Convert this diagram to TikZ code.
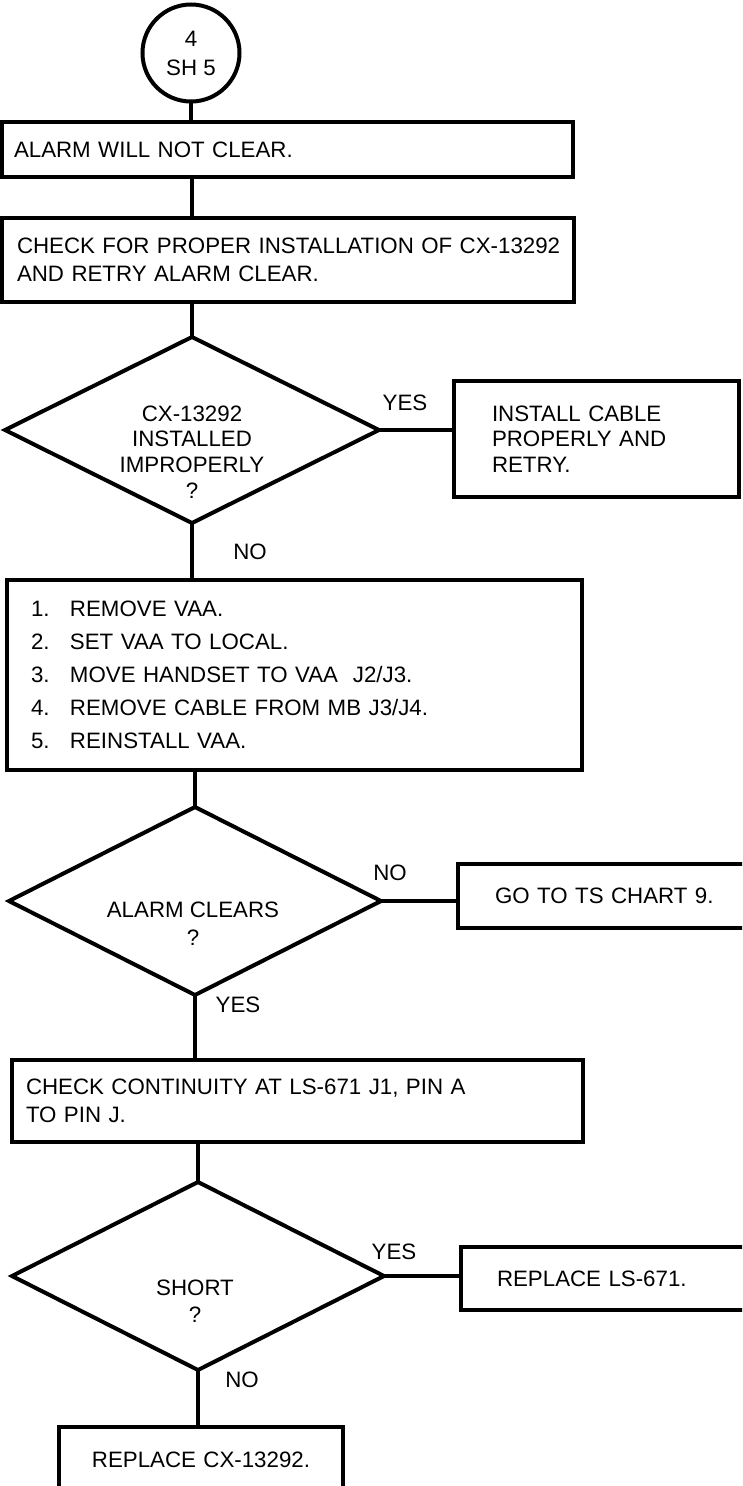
\documentclass[tikz,border=0pt]{standalone}
\usepackage{fontspec}
\setmainfont{Liberation Sans}
\usetikzlibrary{shapes.geometric}
\begin{document}
\begin{tikzpicture}[x=1pt,y=-1pt,
  every node/.style={font=\fontsize{22.3}{28}\selectfont},
  stroke/.style={line width=4pt, line cap=rect},
  box/.style={draw, stroke, rectangle, anchor=north west, outer sep=0pt, inner ysep=0pt, align=left},
  decision/.style={draw, stroke, diamond, shape aspect=2, inner sep=0pt, outer sep=0pt},
  lab/.style={inner sep=0pt},
  conn/.style={stroke}
]
\useasboundingbox (0,0) rectangle (742,1486);
\clip (0,0) rectangle (742,1486);

% start connector circle
\node[draw, stroke, circle, minimum size=97pt, inner sep=0pt, align=center,
      font=\fontsize{22.3}{29}\selectfont] (c) at (191,53) {4\\SH 5};

\node[box, minimum height=55pt, text width=547pt, inner xsep=12pt] (b1) at (2,122)
  {ALARM WILL NOT CLEAR.};
\node[box, minimum height=84pt, text width=542pt, inner xsep=15pt] (b2) at (2,218)
  {\mbox{CHECK FOR PROPER INSTALLATION OF CX-13292}\\\mbox{AND RETRY ALARM CLEAR.}};

\node[decision, minimum width=374pt, minimum height=186pt] (d1) at (192,430) {};
\node[lab, align=center, font=\fontsize{22.3}{25.7}\selectfont] (t1) at (192,452)
  {CX-13292\\INSTALLED\\IMPROPERLY\\?};

\node[box, minimum height=116pt, text width=209pt, inner xsep=38pt,
      font=\fontsize{22.3}{25.5}\selectfont] (inst) at (454,381)
  {INSTALL CABLE\\PROPERLY AND\\RETRY.};

\node[box, minimum height=190pt, text width=527pt, inner xsep=24pt,
      font=\fontsize{22.3}{33}\selectfont] (b3) at (7,580)
  {\makebox[39pt][l]{1.}REMOVE VAA.\\
   \makebox[39pt][l]{2.}SET VAA TO LOCAL.\\
   \makebox[39pt][l]{3.}MOVE HANDSET TO VAA\ \ J2/J3.\\
   \makebox[39pt][l]{4.}REMOVE CABLE FROM MB J3/J4.\\
   \makebox[39pt][l]{5.}REINSTALL VAA.};

\node[decision, minimum width=372pt, minimum height=188pt] (d2) at (195,901) {};
\node[lab, align=center, font=\fontsize{22.3}{28}\selectfont] (t2) at (193,924)
  {ALARM CLEARS\\?};

\node[box, minimum height=64pt, text width=226pt, inner xsep=37pt] (go) at (458,864)
  {\mbox{GO TO TS CHART 9.}};

\node[box, minimum height=82pt, text width=543pt, inner xsep=14pt] (b4) at (12,1060)
  {\mbox{CHECK CONTINUITY AT LS-671 J1, PIN A}\\TO PIN J.};

\node[decision, minimum width=372pt, minimum height=188pt] (d3) at (198,1276) {};
\node[lab, align=center, font=\fontsize{22.3}{27}\selectfont] (t3) at (195,1301)
  {SHORT\\?};

\node[box, minimum height=63pt, text width=228pt, inner xsep=36pt] (ls) at (461,1247)
  {\mbox{REPLACE LS-671.}};

\node[box, align=center, minimum height=66pt, text width=284pt, inner xsep=0pt] (b5) at (59,1427)
  {REPLACE CX-13292.};

% branch labels
\node[lab] (y1) at (405,403) {YES};
\node[lab] (n1) at (250,552) {NO};
\node[lab] (n2) at (390,873) {NO};
\node[lab] (y2) at (238,1005) {YES};
\node[lab] (y3) at (394,1252) {YES};
\node[lab] (n3) at (242,1380) {NO};

% connectors
\draw[conn] (c.south) -- (c.south |- b1.north);
\draw[conn] (d1.north |- b1.south) -- (d1.north |- b2.north);
\draw[conn] (d1.north |- b2.south) -- (d1.north);
\draw[conn] (d1.east) -- (d1.east -| inst.west);
\draw[conn] (d1.south) -- (d1.south |- b3.north);
\draw[conn] (d2.north |- b3.south) -- (d2.north);
\draw[conn] (d2.east) -- (d2.east -| go.west);
\draw[conn] (d2.south) -- (d2.south |- b4.north);
\draw[conn] (d3.north |- b4.south) -- (d3.north);
\draw[conn] (d3.east) -- (d3.east -| ls.west);
\draw[conn] (d3.south) -- (d3.south |- b5.north);
\end{tikzpicture}
\end{document}
